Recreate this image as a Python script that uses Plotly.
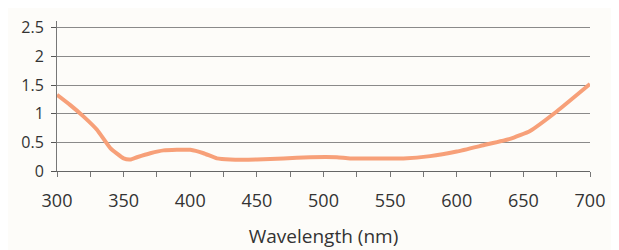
import plotly.graph_objects as go

wavelength = [300, 310, 320, 330, 340, 350, 355, 360, 370, 380, 390, 400, 410, 420, 430,
              450, 470, 490, 510, 520, 560, 580, 600, 620, 640, 655, 675, 700]
absorbance = [1.33, 1.15, 0.95, 0.72, 0.40, 0.22, 0.20, 0.24, 0.31, 0.36, 0.37, 0.37, 0.31,
              0.22, 0.20, 0.20, 0.22, 0.24, 0.24, 0.22, 0.22, 0.26, 0.34, 0.45, 0.56, 0.70,
              1.04, 1.52]

x_tick_vals = list(range(300, 701, 25))
x_tick_text = [str(v) if v % 50 == 0 else "" for v in x_tick_vals]
y_tick_vals = [0, 0.5, 1, 1.5, 2, 2.5]
y_tick_text = ["0", "0.5", "1", "1.5", "2", "2.5"]

fig = go.Figure()
fig.add_trace(go.Scatter(
    x=wavelength, y=absorbance, mode="lines",
    line=dict(color="#f7a079", width=4, shape="spline", smoothing=0.4),
    hoverinfo="skip", showlegend=False,
))

fig.update_layout(
    width=619, height=250,
    margin=dict(l=49, r=37, t=9, b=87),
    paper_bgcolor="#fdfcf9",
    plot_bgcolor="rgba(0,0,0,0)",
    font=dict(family="Open Sans", size=18, color="#333333"),
    xaxis=dict(
        range=[300, 700], tickmode="array", tickvals=x_tick_vals, ticktext=x_tick_text,
        ticks="outside", ticklen=5, tickcolor="#777777", showline=True, linecolor="#666666",
        linewidth=1, showgrid=False, zeroline=False, ticklabelstandoff=8,
        title=dict(text="Wavelength (nm)", standoff=19, font=dict(size=19)),
        tickfont=dict(size=18),
    ),
    yaxis=dict(
        range=[0, 2.62], tickmode="array", tickvals=y_tick_vals, ticktext=y_tick_text,
        ticks="outside", ticklen=5, tickcolor="#555555", showline=True, linecolor="#777777",
        linewidth=1, showgrid=True, gridcolor="#8a8a8a", gridwidth=1, zeroline=False,
        ticklabelstandoff=4,
        tickfont=dict(size=16),
    ),
)

fig.write_html("out.html")
